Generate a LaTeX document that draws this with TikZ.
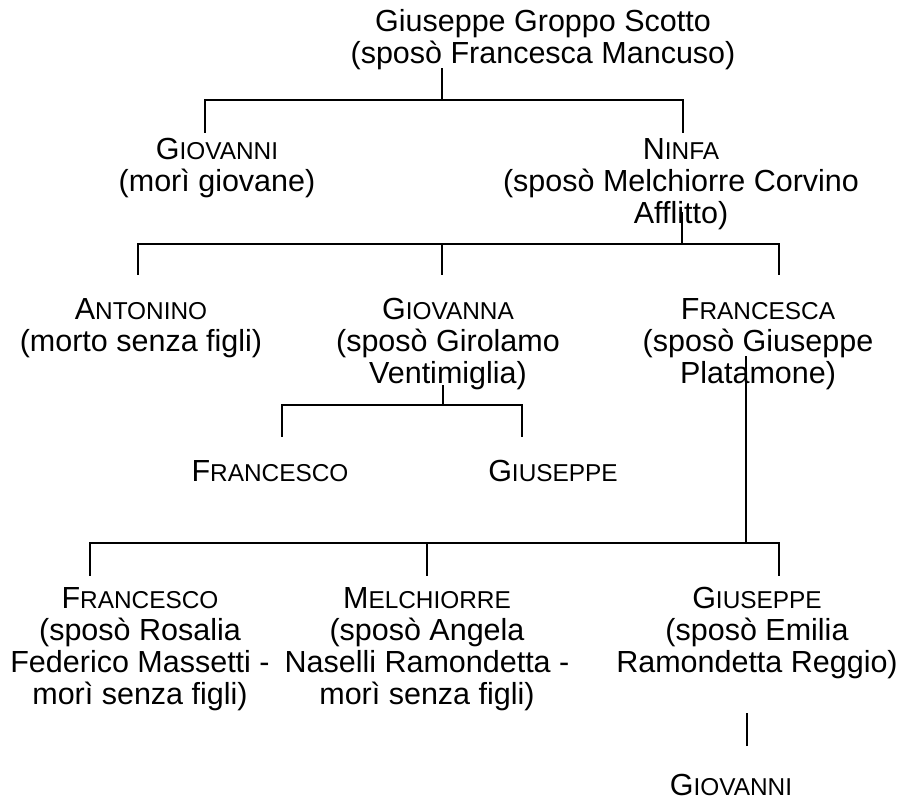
\documentclass[tikz,border=0pt]{standalone}
\usepackage{fontspec}
\setmainfont{Liberation Sans}
\usetikzlibrary{positioning}

% fake small capitals for first names
\newcommand{\nome}[2]{#1{\fontsize{24.4pt}{32pt}\selectfont #2}}

\tikzset{
  persona/.style={align=center, inner sep=0pt, anchor=base, font=\fontsize{30.5pt}{32pt}\selectfont},
  ramo/.style={line width=1.5pt},
}

\begin{document}
\begin{tikzpicture}[x=1pt, y=-1pt]
\useasboundingbox (0,0) rectangle (903,802);

% nodes sit on the baseline of their last line
\node[persona] (giuseppe) at (543,63.5) {Giuseppe Groppo Scotto\\(sposò Francesca Mancuso)};

\node[persona] (giovanni) at (217,192) {\nome{G}{IOVANNI}\\(morì giovane)};
\node[persona] (ninfa) at (681,224) {\nome{N}{INFA}\\(sposò Melchiorre Corvino\\Afflitto)};

\node[persona] (antonino) at (141,352) {\nome{A}{NTONINO}\\(morto senza figli)};
\node[persona] (giovanna) at (448,384) {\nome{G}{IOVANNA}\\(sposò Girolamo\\Ventimiglia)};
\node[persona] (francesca) at (758,384) {\nome{F}{RANCESCA}\\(sposò Giuseppe\\Platamone)};

\node[persona] (francescoV) at (270,481) {\nome{F}{RANCESCO}};
\node[persona] (giuseppeV) at (553,481) {\nome{G}{IUSEPPE}};

\node[persona] (francescoP) at (140,704) {\nome{F}{RANCESCO}\\(sposò Rosalia\\Federico Massetti -\\morì senza figli)};
\node[persona] (melchiorre) at (427,704) {\nome{M}{ELCHIORRE}\\(sposò Angela\\Naselli Ramondetta -\\morì senza figli)};
\node[persona] (giuseppeP) at (757,672) {\nome{G}{IUSEPPE}\\(sposò Emilia\\Ramondetta Reggio)};

\node[persona] (giovanniP) at (731,795) {\nome{G}{IOVANNI}};

% figli di Giuseppe
\coordinate (j1) at (442,100);
\draw[ramo] (j1) -- ++(0,-32);
\draw[ramo] (j1) -| ++(-237,33);
\draw[ramo] (j1) -| ++(241,33);

% figli di Ninfa
\coordinate (j2) at (682,244);
\draw[ramo] (j2) -- ++(0,-32);
\draw[ramo] (j2) -| ++(-544,31);
\draw[ramo] (j2) -| ++(-240,31);
\draw[ramo] (j2) -| ++(97,31);

% figli di Giovanna
\coordinate (j3) at (443,405);
\draw[ramo] (j3) -- ++(0,-20);
\draw[ramo] (j3) -| ++(-161,32);
\draw[ramo] (j3) -| ++(79,32);

% figli di Francesca
\coordinate (j4) at (746,543);
\draw[ramo] (j4) -- ++(0,-187);
\draw[ramo] (j4) -| ++(-656,33);
\draw[ramo] (j4) -| ++(-319,33);
\draw[ramo] (j4) -| ++(33,33);

% figlio di Giuseppe
\coordinate (j5) at (747,746);
\draw[ramo] (j5) -- ++(0,-33);
\end{tikzpicture}
\end{document}
